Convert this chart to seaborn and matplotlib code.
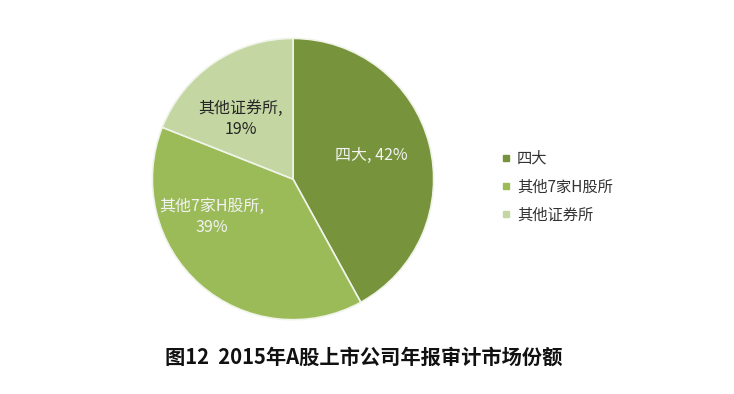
import matplotlib
matplotlib.use("Agg")
import matplotlib.pyplot as plt
import seaborn as sns
from matplotlib.lines import Line2D

# Datos
categorias = ["四大", "其他7家H股所", "其他证券所"]
valores = [42, 39, 19]
colores = ["#77933C", "#9BBB59", "#C4D6A2"]
etiquetas = ["四大, 42%", "其他7家H股所,\n39%", "其他证券所,\n19%"]
titulo = "图12  2015年A股上市公司年报审计市场份额"

sns.set_style("white")
plt.rcParams['font.family'] = ['Noto Sans CJK SC', 'DejaVu Sans']

fig = plt.figure(figsize=(7.34, 3.94), dpi=100)
ax = fig.add_axes([0.2057, 0.185, 0.387, 0.721])

wedges, _ = ax.pie(valores, colors=colores, startangle=90, counterclock=False,
                   wedgeprops=dict(edgecolor="#F0F4E8", linewidth=1.2))
ax.set_aspect("equal")
ax.set_xlim(-1.01, 1.01)
ax.set_ylim(-1.01, 1.01)

# Etiquetas de los sectores
pos_etiquetas = [(0.56, 0.17), (-0.58, -0.27), (-0.37, 0.43)]
colores_texto = ["#F2F2F2", "#F2F2F2", "#262626"]
for (x, y), txt, c in zip(pos_etiquetas, etiquetas, colores_texto):
    ax.text(x, y, txt, ha="center", va="center", fontsize=11.5, color=c,
            linespacing=1.3)

# Leyenda
handles = [Line2D([0], [0], marker="s", linestyle="", markersize=5,
                  markerfacecolor=c, markeredgecolor=c) for c in colores]
fig.legend(handles, categorias, loc="upper left", bbox_to_anchor=(0.675, 0.635),
           frameon=False, fontsize=11, handlelength=0.6, handletextpad=0.4,
           labelspacing=0.75, labelcolor="#333333", borderaxespad=0)

fig.text(0.225, 0.093, titulo, fontsize=14.6, fontweight="bold", color="#111111",
         ha="left", va="center")

fig.savefig("out.png", dpi=100, facecolor="white")
